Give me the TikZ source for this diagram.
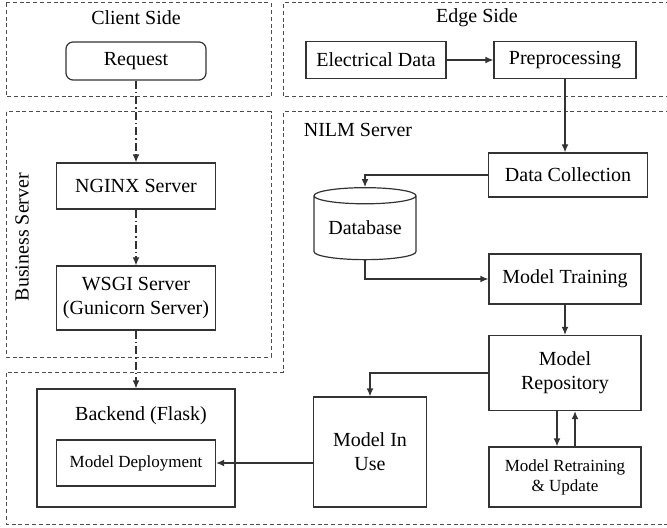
\documentclass[tikz,border=0pt]{standalone}
\usepackage{fontspec}
\setmainfont{Liberation Serif}
\newfontfamily\termsfont{Liberation Serif}
\usetikzlibrary{shapes.geometric,arrows.meta,positioning}

\begin{document}
\begin{tikzpicture}
    [x=0.5pt, y=-0.5pt, >={Latex[length=4pt,width=3.4pt]},
        block/.style={
          rectangle,
          draw=black!80,
          line width=0.6pt,
          align=center,
          inner sep=0pt,
          font=\termsfont\fontsize{10}{12}\selectfont
        },
        smallblock/.style={
          block,
          font=\termsfont\fontsize{8.5}{10}\selectfont
        },
        region/.style={
          draw=black!70,
          line width=0.5pt,
          dash pattern=on 2pt off 1.4pt
        },
        title/.style={
          font=\termsfont\fontsize{10}{12}\selectfont
        },
        flow/.style={
          ->,
          draw=black!80,
          line width=0.6pt
        },
        call/.style={
          ->,
          draw=black!80,
          line width=0.6pt,
          dash pattern=on 4pt off 1.5pt on 0.8pt off 1.5pt
        }
    ]
    \useasboundingbox (0,0) rectangle (667,528);
    \clip (0,0) rectangle (667,528);

    \draw[region] (6,3) rectangle (271,97);
    \draw[region] (690,3) -- (283,3) -- (283,97) -- (690,97);
    \draw[region] (6,112) rectangle (271,357);
    \draw[region] (690,112) -- (283,112) -- (283,372) -- (6,372) -- (6,524) -- (690,524);

    \node[title] (client) at (136,18) {Client Side};
    \node[title] (edge) at (477,18) {Edge Side};
    \node[title, rotate=90] (business) at (22,237) {Business Server};
    \node[title] (nilm) at (358,130) {NILM Server};

    \node[block, rounded corners=3.5pt, minimum width=70pt, minimum height=19pt] (req) at (136,61) {Request};
    \node[block, minimum width=79.5pt, minimum height=23pt] (nginx) at (136,186) {NGINX Server};
    \node[block, minimum width=79.5pt, minimum height=32pt] (wsgi) at (136,298) {WSGI Server\\(Gunicorn Server)};

    \node[block, minimum width=99pt, minimum height=59pt] (backend) at (136,448) {};
    \node[title] (flask) at (141,416) {Backend (Flask)};
    \node[smallblock, minimum width=79.5pt, minimum height=23pt] (deploy) at (136,463) {Model Deployment};

    \node[block, minimum width=70pt, minimum height=18.5pt] (elec) at (376,60) {Electrical Data};
    \node[block, minimum width=71pt, minimum height=18.5pt] (pre) at (565,60) {Preprocessing};
    \node[block, minimum width=79.5pt, minimum height=22pt] (dc) at (568,175) {Data Collection};
    \node[block, cylinder, shape border rotate=90, aspect=0.22, minimum width=51pt, minimum height=36pt] (db) at (365,228) {Database};
    \node[block, minimum width=76pt, minimum height=25pt] (train) at (565,279) {Model Training};
    \node[block, minimum width=76pt, minimum height=37.5pt] (repo) at (565,373) {Model\\Repository};
    \node[smallblock, minimum width=76pt, minimum height=30pt] (retrain) at (565,477) {Model Retraining\\\& Update};
    \node[block, minimum width=56.5pt, minimum height=55pt] (use) at (370,452) {Model In\\Use};

    \draw[call] (req) -- (nginx);
    \draw[call] (nginx) -- (wsgi);
    \draw[call] (wsgi) -- (backend);

    \draw[flow] (elec) -- (pre);
    \draw[flow] (pre.south) -- (pre.south |- dc.north);
    \draw[flow] (dc.west) -| (db.north);
    \draw[flow] (db.south) |- (train.west);
    \draw[flow] (train) -- (repo);
    \draw[flow] (repo.west) -| (use.north);
    \draw[flow] ([xshift=-4pt]repo.south) -- ([xshift=-4pt]repo.south |- retrain.north);
    \draw[flow] ([xshift=5pt]retrain.north) -- ([xshift=5pt]retrain.north |- repo.south);
    \draw[flow] (use.west |- deploy.east) -- (deploy.east);
\end{tikzpicture}
\end{document}
